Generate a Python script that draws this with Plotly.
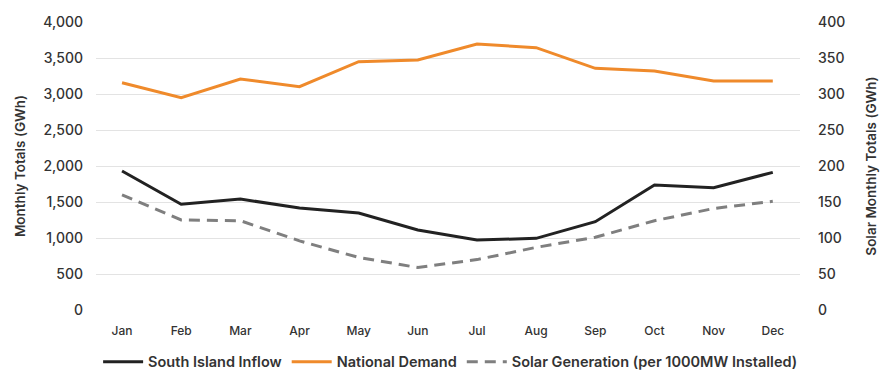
import plotly.graph_objects as go

months = ["Jan", "Feb", "Mar", "Apr", "May", "Jun", "Jul", "Aug", "Sep", "Oct", "Nov", "Dec"]
south_island_inflow = [1931, 1468, 1541, 1416, 1347, 1111, 972, 995, 1227, 1736, 1699, 1912]
national_demand = [3157, 2949, 3208, 3101, 3449, 3472, 3694, 3643, 3357, 3319, 3181, 3181]
solar_generation = [160, 125, 124, 96, 73, 59, 70, 87, 101, 124, 141, 151]

left_ticks = [0, 500, 1000, 1500, 2000, 2500, 3000, 3500, 4000]
right_ticks = [0, 50, 100, 150, 200, 250, 300, 350, 400]

FONT = "Inter"
TXT = "#333333"

fig = go.Figure()
fig.add_trace(go.Scatter(x=months, y=south_island_inflow, name="South Island Inflow",
                         mode="lines", line=dict(color="#222222", width=3)))
fig.add_trace(go.Scatter(x=months, y=national_demand, name="National Demand",
                         mode="lines", line=dict(color="#EF8A2B", width=3)))
fig.add_trace(go.Scatter(x=months, y=solar_generation, name="Solar Generation (per 1000MW Installed)",
                         mode="lines", line=dict(color="#7f7f7f", width=3, dash="11px,7px"),
                         yaxis="y2"))

fig.update_layout(
    width=883, height=372,
    margin=dict(l=96, r=83, t=22, b=62, autoexpand=False),
    paper_bgcolor="white", plot_bgcolor="white",
    font=dict(family=FONT, color=TXT, size=13),
    xaxis=dict(range=[-0.44, 11.46], showgrid=False, zeroline=False, showline=False,
               ticks="", ticklabelstandoff=12,
               tickfont=dict(size=12, color=TXT, family=FONT, weight=500)),
    yaxis=dict(range=[0, 4000], tickvals=left_ticks, tickformat=",",
               showgrid=True, gridcolor="#e3e3e3", gridwidth=1.2, zeroline=False,
               showline=False, ticks="", ticklabelstandoff=12,
               tickfont=dict(size=14, color=TXT, family=FONT, weight=500),
               title=dict(text="Monthly Totals (GWh)", standoff=14,
                          font=dict(size=13.5, color=TXT, family=FONT, weight=600))),
    yaxis2=dict(range=[0, 400], tickvals=right_ticks, overlaying="y", side="right",
                showgrid=False, zeroline=False, showline=False, ticks="", ticklabelstandoff=17,
                tickfont=dict(size=14, color=TXT, family=FONT, weight=500),
                title=dict(text="Solar Monthly Totals (GWh)", standoff=22,
                           font=dict(size=13.5, color=TXT, family=FONT, weight=600))),
    legend=dict(orientation="h", x=0.503, xanchor="center", y=-0.18, yanchor="middle",
                font=dict(size=14.5, color=TXT, family=FONT, weight=600),
                itemwidth=40, tracegroupgap=0),
    showlegend=True,
)

fig.write_html("out.html")
